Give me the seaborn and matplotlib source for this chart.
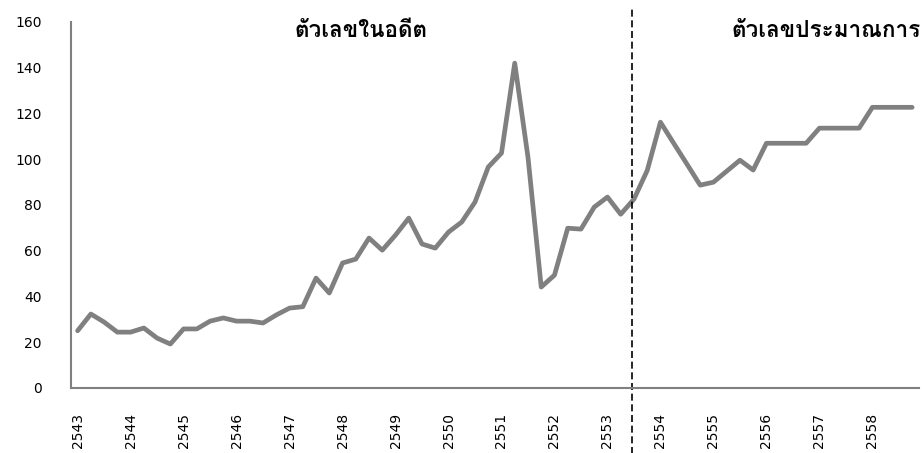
#!/usr/bin/env python3
# Quarterly series 2543-2558: past figures vs projection
import pandas as pd
import seaborn as sns
import matplotlib.pyplot as plt
from matplotlib import font_manager, ft2font

years = [str(y) for y in range(2543, 2559)]
values = [25.0, 32.3, 28.8, 24.4, 24.4, 26.2, 21.8, 19.2,
          25.8, 25.8, 29.2, 30.6, 29.2, 29.2, 28.4, 31.9,
          34.9, 35.5, 48.0, 41.5, 54.6, 56.3, 65.5, 60.2,
          66.8, 74.2, 62.9, 61.1, 68.1, 72.5, 81.2, 96.5,
          102.6, 141.9, 100.8, 44.1, 49.3, 69.8, 69.4, 79.0,
          83.4, 75.9, 82.5, 95.0, 116.1, 106.9, 97.8, 88.6,
          89.9, 94.7, 99.5, 95.2, 106.9, 106.9, 106.9, 106.9,
          113.5, 113.5, 113.5, 113.5, 122.6, 122.6, 122.6, 122.6]
split_pos = 41.85
labels = ["ตัวเลขในอดีต", "ตัวเลขประมาณการ"]


def find_font(ch):
    # first installed family that actually has the glyph
    for f in font_manager.fontManager.ttflist:
        try:
            if ft2font.FT2Font(f.fname).get_char_index(ord(ch)):
                return f.name
        except Exception:
            continue
    return None


def main():
    df = pd.DataFrame({'idx': range(len(values)), 'value': values})

    sns.set_style("white")
    plt.rcParams['font.family'] = ['DejaVu Sans']
    thai = find_font('ต')
    thai_family = [thai, 'DejaVu Sans'] if thai else ['DejaVu Sans']

    fig = plt.figure(figsize=(9.23, 4.53), dpi=100)
    ax = fig.add_axes([0.0769, 0.1435, 0.9185, 0.8086])

    sns.lineplot(data=df, x='idx', y='value', ax=ax, color='#808080', linewidth=3.4)

    ax.set_xlim(-0.5, len(values) - 0.5)
    ax.set_ylim(0, 160)
    ax.set_yticks(range(0, 161, 20))
    ax.set_xticks(range(0, len(values), 4))
    ax.set_xticklabels(years, rotation=90)
    ax.tick_params(axis='y', length=0, pad=21, labelsize=10, labelcolor='black')
    ax.tick_params(axis='x', length=0, pad=18, labelsize=10, labelcolor='black')
    ax.set_xlabel('')
    ax.set_ylabel('')

    sns.despine(ax=ax)
    for side in ['left', 'bottom']:
        ax.spines[side].set_color('#808080')
        ax.spines[side].set_linewidth(1.5)

    ax.axvline(split_pos, ymin=-0.18, ymax=1.04, color='black', linestyle=(0, (4.2, 2.2)),
               linewidth=1.2, clip_on=False)

    ax.text(21.4, 0.959, labels[0], transform=ax.get_xaxis_transform(), ha='center',
            va='baseline', fontsize=16.2, fontweight='bold', color='black', family=thai_family)
    ax.text(56.5, 0.959, labels[1], transform=ax.get_xaxis_transform(), ha='center',
            va='baseline', fontsize=16.2, fontweight='bold', color='black', family=thai_family)

    fig.savefig('out.png', dpi=100)


if __name__ == "__main__":
    main()
